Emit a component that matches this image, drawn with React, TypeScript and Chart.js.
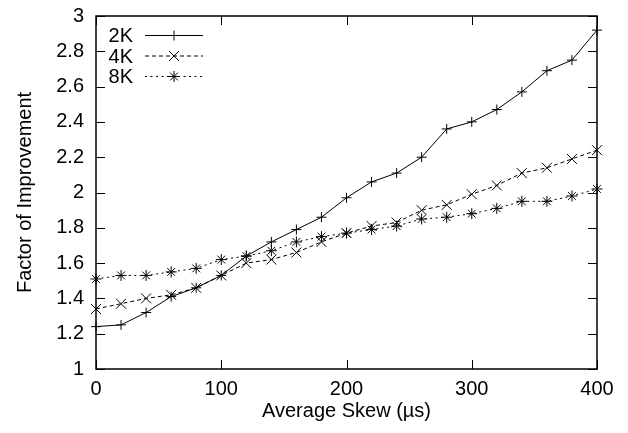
import React, { useEffect, useRef } from "react";
import { Chart, registerables } from "chart.js";

Chart.register(...registerables);

const skew = [0, 20, 40, 60, 80, 100, 120, 140, 160, 180, 200, 220, 240, 260, 280, 300, 320, 340, 360, 380, 400];
const series2K = [1.24, 1.25, 1.32, 1.41, 1.46, 1.53, 1.64, 1.72, 1.79, 1.86, 1.97, 2.06, 2.11, 2.2, 2.36, 2.4, 2.47, 2.57, 2.69, 2.75, 2.92];
const series4K = [1.34, 1.37, 1.4, 1.42, 1.46, 1.53, 1.6, 1.62, 1.66, 1.72, 1.77, 1.81, 1.83, 1.9, 1.93, 1.99, 2.04, 2.11, 2.14, 2.19, 2.24];
const series8K = [1.51, 1.53, 1.53, 1.55, 1.57, 1.62, 1.64, 1.67, 1.72, 1.75, 1.77, 1.79, 1.81, 1.85, 1.86, 1.88, 1.91, 1.95, 1.95, 1.98, 2.02];
const seriesLabels = ["2K", "4K", "8K"];
const xTicks = [0, 100, 200, 300, 400];
const yTicks = [1, 1.2, 1.4, 1.6, 1.8, 2, 2.2, 2.4, 2.6, 2.8, 3];

const FONT = "'Liberation Sans', Arial, Helvetica, sans-serif";

function drawMarker(ctx: CanvasRenderingContext2D, style: string, r: number, x: number, y: number) {
  ctx.beginPath();
  if (style === "cross" || style === "star") {
    ctx.moveTo(x - r, y);
    ctx.lineTo(x + r, y);
    ctx.moveTo(x, y - r);
    ctx.lineTo(x, y + r);
  }
  if (style === "crossRot" || style === "star") {
    const o = Math.cos(Math.PI / 4) * r;
    ctx.moveTo(x - o, y - o);
    ctx.lineTo(x + o, y + o);
    ctx.moveTo(x - o, y + o);
    ctx.lineTo(x + o, y - o);
  }
  ctx.stroke();
}

const framePlugin = {
  id: "gnuplotFrame",
  beforeDatasetsDraw(chart: any) {
    const { ctx, chartArea: a, scales } = chart;
    const tl = 9;
    ctx.save();
    ctx.strokeStyle = "#000";
    ctx.lineWidth = 1;
    ctx.beginPath();
    for (const v of xTicks) {
      const px = Math.round(scales.x.getPixelForValue(v)) + 0.5;
      ctx.moveTo(px, a.bottom);
      ctx.lineTo(px, a.bottom - tl);
      ctx.moveTo(px, a.top);
      ctx.lineTo(px, a.top + tl);
    }
    for (const v of yTicks) {
      const py = Math.round(scales.y.getPixelForValue(v)) + 0.5;
      ctx.moveTo(a.left, py);
      ctx.lineTo(a.left + tl, py);
      ctx.moveTo(a.right, py);
      ctx.lineTo(a.right - tl, py);
    }
    ctx.stroke();
    ctx.lineWidth = 1.5;
    ctx.strokeRect(a.left, a.top, a.right - a.left, a.bottom - a.top);
    ctx.restore();
  },
  afterDraw(chart: any) {
    const { ctx, chartArea: a } = chart;
    ctx.save();
    ctx.font = `20px ${FONT}`;
    ctx.fillStyle = "#000";
    ctx.textAlign = "right";
    ctx.textBaseline = "middle";
    const textRight = a.left + 37;
    const lineStart = a.left + 49;
    const lineEnd = a.left + 107;
    chart.data.datasets.forEach((ds: any, i: number) => {
      const y = a.top + 19.5 + i * 20.5;
      ctx.fillText(ds.label, textRight, y + 1);
      ctx.save();
      ctx.strokeStyle = ds.borderColor;
      ctx.lineWidth = ds.borderWidth;
      ctx.setLineDash(ds.borderDash || []);
      ctx.beginPath();
      ctx.moveTo(lineStart, y);
      ctx.lineTo(lineEnd, y);
      ctx.stroke();
      ctx.restore();
      ctx.save();
      ctx.strokeStyle = "#000";
      ctx.lineWidth = ds.pointBorderWidth;
      drawMarker(ctx, ds.pointStyle, ds.pointRadius, (lineStart + lineEnd) / 2, y);
      ctx.restore();
    });
    ctx.restore();
  },
};

export default function App() {
  const ref = useRef<HTMLCanvasElement | null>(null);
  useEffect(() => {
    if (!ref.current) return;
    const mk = (vals: number[]) => skew.map((x, i) => ({ x, y: vals[i] }));
    const chart = new Chart(ref.current, {
      type: "line",
      data: {
        datasets: [
          {
            label: seriesLabels[0],
            data: mk(series2K),
            borderColor: "#000",
            borderWidth: 1,
            pointStyle: "cross",
            pointRadius: 5,
            pointBorderColor: "#000",
            pointBorderWidth: 1,
            pointBackgroundColor: "#000",
            clip: false,
          },
          {
            label: seriesLabels[1],
            data: mk(series4K),
            borderColor: "#000",
            borderWidth: 1,
            borderDash: [4, 3],
            pointStyle: "crossRot",
            pointRadius: 7,
            pointBorderColor: "#000",
            pointBorderWidth: 1,
            pointBackgroundColor: "#000",
            clip: false,
          },
          {
            label: seriesLabels[2],
            data: mk(series8K),
            borderColor: "#000",
            borderWidth: 1,
            borderDash: [2, 3.5],
            pointStyle: "star",
            pointRadius: 5.5,
            pointBorderColor: "#000",
            pointBorderWidth: 1,
            pointBackgroundColor: "#000",
            clip: false,
          },
        ],
      },
      options: {
        responsive: false,
        animation: false,
        devicePixelRatio: 1,
        layout: { padding: { top: 16, right: 31, left: 0, bottom: 0 } },
        plugins: { legend: { display: false }, tooltip: { enabled: false } },
        elements: { line: { tension: 0 } },
        scales: {
          x: {
            type: "linear",
            min: 0,
            max: 400,
            afterBuildTicks: (s: any) => {
              s.ticks = xTicks.map((v) => ({ value: v }));
            },
            afterFit: (s: any) => {
              s.height = 64;
              s.paddingLeft = 0;
              s.paddingRight = 0;
            },
            grid: { display: false, drawTicks: false },
            border: { display: false },
            ticks: {
              color: "#000",
              font: { family: FONT, size: 20 },
              padding: 8,
              maxRotation: 0,
              autoSkip: false,
              callback: (v: any) => String(v),
            },
            title: {
              display: true,
              text: "Average Skew (\u00b5s)",
              color: "#000",
              font: { family: FONT, size: 20 },
              padding: { top: 0, bottom: 10 },
            },
          },
          y: {
            type: "linear",
            min: 1,
            max: 3,
            afterBuildTicks: (s: any) => {
              s.ticks = yTicks.map((v) => ({ value: v }));
            },
            afterFit: (s: any) => {
              s.width = 96;
              s.paddingTop = 0;
              s.paddingBottom = 0;
            },
            grid: { display: false, drawTicks: false },
            border: { display: false },
            ticks: {
              color: "#000",
              font: { family: FONT, size: 20 },
              padding: 12,
              autoSkip: false,
              callback: (v: any) => String(Number(Number(v).toFixed(1))),
            },
            title: {
              display: true,
              text: "Factor of Improvement",
              color: "#000",
              font: { family: FONT, size: 20 },
              padding: { top: 13, bottom: 0 },
            },
          },
        },
      },
      plugins: [framePlugin],
    } as any);
    return () => chart.destroy();
  }, []);
  return (
    <div style={{ position: "fixed", left: 0, top: 0, width: 628, height: 433, background: "#fff" }}>
      <canvas ref={ref} width={628} height={433} />
    </div>
  );
}
